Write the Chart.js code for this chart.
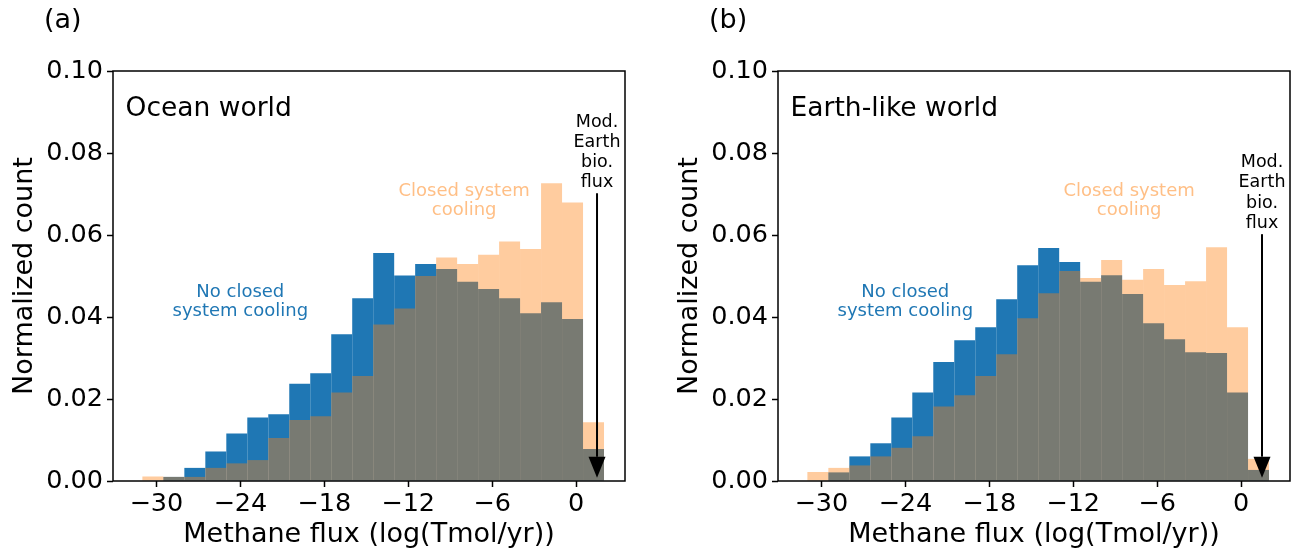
<!DOCTYPE html>
<html>
<head>
<meta charset="utf-8">
<script src="https://cdn.jsdelivr.net/npm/chart.js@4/dist/chart.umd.min.js"></script>
<style>
  body { margin: 0; background: #fff; }
  #wrap { position: relative; width: 1301px; height: 555px; }
  canvas { position: absolute; top: 0; }
</style>
</head>
<body>
<div id="wrap">
  <canvas id="chartA" width="665" height="555" style="left:0px"></canvas>
  <canvas id="chartB" width="636" height="555" style="left:665px"></canvas>
</div>
<script>
// histogram bin centres, log(Tmol/yr), bins are 1.5 wide
const binCenters = [-30.25, -28.75, -27.25, -25.75, -24.25, -22.75, -21.25, -19.75, -18.25, -16.75, -15.25,
                    -13.75, -12.25, -10.75, -9.25, -7.75, -6.25, -4.75, -3.25, -1.75, -0.25, 1.25];

// (a) Ocean world
const oceanNoClosed = [0, 0.0010, 0.0032, 0.0072, 0.0116, 0.0155, 0.0163, 0.0237, 0.0263, 0.0358, 0.0446,
                       0.0556, 0.0501, 0.0529, 0.0517, 0.0486, 0.0468, 0.0446, 0.0409, 0.0436, 0.0395, 0.0078];
const oceanClosed   = [0.0011, 0.0010, 0.0010, 0.0032, 0.0043, 0.0051, 0.0105, 0.0149, 0.0158, 0.0216, 0.0256,
                       0.0382, 0.0421, 0.0500, 0.0545, 0.0529, 0.0552, 0.0584, 0.0566, 0.0726, 0.0679, 0.0143];

// (b) Earth-like world
const earthNoClosed = [0, 0.0021, 0.0060, 0.0092, 0.0155, 0.0216, 0.0290, 0.0343, 0.0375, 0.0443, 0.0526,
                       0.0568, 0.0534, 0.0486, 0.0502, 0.0456, 0.0385, 0.0346, 0.0314, 0.0312, 0.0216, 0.0027];
const earthClosed   = [0.0022, 0.0032, 0.0038, 0.0060, 0.0081, 0.0109, 0.0182, 0.0209, 0.0256, 0.0309, 0.0397,
                       0.0458, 0.0512, 0.0495, 0.0539, 0.0491, 0.0517, 0.0478, 0.0487, 0.0570, 0.0375, 0.0054];

const xTicks = [-30, -24, -18, -12, -6, 0];
const yTicks = [0, 0.02, 0.04, 0.06, 0.08, 0.10];
const xRange = [-33.1, 3.5];
const yRange = [0, 0.10];

// modern Earth biological flux marker
const modEarthFlux = 1.5;

const FONT = "'DejaVu Sans', 'Liberation Sans', sans-serif";
const BLUE = '#1f77b4';
const ORANGE_BAR = 'rgba(255, 127, 14, 0.4)';
const ORANGE_TEXT = 'rgba(255, 127, 14, 0.5)';

function toPoints(values) {
    return binCenters.map((c, i) => ({ x: c, y: values[i] }));
}

function minusLabel(v) {
    return v < 0 ? '\u2212' + Math.abs(v) : String(v);
}

// frame, annotations and arrow
const panelDecor = {
    id: 'panelDecor',
    afterDraw(chart, args, opts) {
        const ctx = chart.ctx;
        const { left, top, right, bottom } = chart.chartArea;
        const sx = chart.scales.x, sy = chart.scales.y;
        ctx.save();

        ctx.strokeStyle = '#000';
        ctx.lineWidth = 1.5;
        ctx.strokeRect(left, top, right - left, bottom - top);

        ctx.fillStyle = '#000';
        ctx.textBaseline = 'alphabetic';
        ctx.textAlign = 'left';
        ctx.font = `27px ${FONT}`;
        ctx.fillText(opts.panel, 44, 28);
        ctx.font = `26.5px ${FONT}`;
        ctx.fillText(opts.title, sx.getPixelForValue(-32.2), sy.getPixelForValue(0.089));

        ctx.textAlign = 'center';
        ctx.font = `18px ${FONT}`;
        ctx.fillStyle = BLUE;
        ctx.fillText('No closed', sx.getPixelForValue(-24), sy.getPixelForValue(0.0449));
        ctx.fillText('system cooling', sx.getPixelForValue(-24), sy.getPixelForValue(0.0403));
        ctx.fillStyle = ORANGE_TEXT;
        ctx.fillText('Closed system', sx.getPixelForValue(-8), sy.getPixelForValue(0.0695));
        ctx.fillText('cooling', sx.getPixelForValue(-8), sy.getPixelForValue(0.0649));

        ctx.fillStyle = '#000';
        ctx.font = `17.5px ${FONT}`;
        const ax = sx.getPixelForValue(modEarthFlux);
        ['Mod.', 'Earth', 'bio.', 'flux'].forEach((t, i) => {
            ctx.fillText(t, ax, sy.getPixelForValue(opts.labelTop - i * 0.0049));
        });

        // arrow down to the axis
        const y0 = sy.getPixelForValue(opts.arrowTop);
        const y1 = sy.getPixelForValue(0.0008);
        const headLen = 21, headHalf = 8.5;
        ctx.strokeStyle = '#000';
        ctx.lineWidth = 2;
        ctx.beginPath();
        ctx.moveTo(ax, y0);
        ctx.lineTo(ax, y1 - headLen);
        ctx.stroke();
        ctx.beginPath();
        ctx.moveTo(ax - headHalf, y1 - headLen);
        ctx.lineTo(ax + headHalf, y1 - headLen);
        ctx.lineTo(ax, y1);
        ctx.closePath();
        ctx.fill();

        ctx.restore();
    }
};

function makePanel(canvasId, noClosed, closed, decor, rightPad) {
    const ctx = document.getElementById(canvasId).getContext('2d');
    return new Chart(ctx, {
        type: 'bar',
        data: {
            datasets: [
                {
                    label: 'No closed system cooling',
                    data: toPoints(noClosed),
                    backgroundColor: BLUE,
                    order: 2
                },
                {
                    label: 'Closed system cooling',
                    data: toPoints(closed),
                    backgroundColor: ORANGE_BAR,
                    order: 1
                }
            ]
        },
        options: {
            responsive: false,
            animation: false,
            devicePixelRatio: 1,
            layout: { padding: { left: 0, right: rightPad, top: 71, bottom: 0 } },
            datasets: {
                bar: {
                    grouped: false,
                    barPercentage: 1,
                    categoryPercentage: 1,
                    borderWidth: 0,
                    inflateAmount: 0
                }
            },
            plugins: {
                legend: { display: false },
                tooltip: { enabled: false },
                panelDecor: decor
            },
            scales: {
                x: {
                    type: 'linear',
                    offset: false,
                    min: xRange[0],
                    max: xRange[1],
                    afterBuildTicks: s => { s.ticks = xTicks.map(v => ({ value: v })); },
                    afterFit: s => { s.height = 74; s.paddingLeft = 0; s.paddingRight = 0; },
                    border: { display: false },
                    grid: { offset: false, drawOnChartArea: false, tickLength: 6, tickWidth: 1.5, tickColor: '#000' },
                    ticks: {
                        color: '#000',
                        padding: 2,
                        maxRotation: 0,
                        font: { family: FONT, size: 25.5 },
                        callback: v => minusLabel(v)
                    },
                    title: {
                        display: true,
                        text: 'Methane flux (log(Tmol/yr))',
                        color: '#000',
                        padding: { top: 0, bottom: 4 },
                        font: { family: FONT, size: 27 }
                    }
                },
                y: {
                    min: yRange[0],
                    max: yRange[1],
                    afterBuildTicks: s => { s.ticks = yTicks.map(v => ({ value: v })); },
                    afterFit: s => { s.width = 113; s.paddingTop = 0; s.paddingBottom = 0; },
                    border: { display: false },
                    grid: { drawOnChartArea: false, tickLength: 6, tickWidth: 1.5, tickColor: '#000' },
                    ticks: {
                        color: '#000',
                        padding: 4,
                        font: { family: FONT, size: 25.5 },
                        callback: v => v.toFixed(2)
                    },
                    title: {
                        display: true,
                        text: 'Normalized count',
                        color: '#000',
                        padding: { top: 9, bottom: 0 },
                        font: { family: FONT, size: 27 }
                    }
                }
            }
        },
        plugins: [panelDecor]
    });
}

makePanel('chartA', oceanNoClosed, oceanClosed,
    { panel: '(a)', title: 'Ocean world', labelTop: 0.0864, arrowTop: 0.0702 }, 40);
makePanel('chartB', earthNoClosed, earthClosed,
    { panel: '(b)', title: 'Earth-like world', labelTop: 0.0765, arrowTop: 0.0602 }, 11);
</script>
</body>
</html>
